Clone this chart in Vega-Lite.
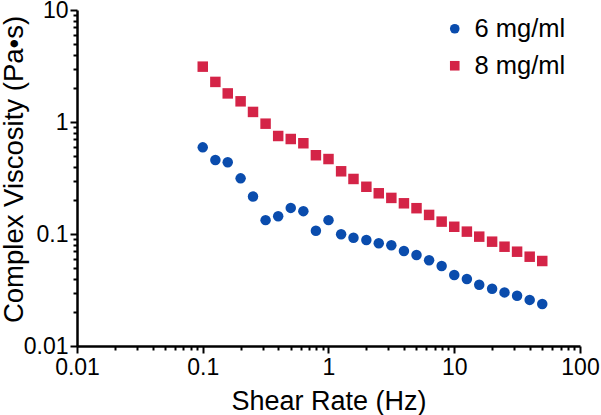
{
  "$schema": "https://vega.github.io/schema/vega-lite/v6.json",
  "width": 503,
  "height": 336,
  "autosize": {"type": "none"},
  "padding": {"left": 77, "top": 10, "right": 21, "bottom": 69},
  "background": "white",
  "config": {
    "view": {"stroke": null},
    "font": "Liberation Sans",
    "axis": {
      "domainColor": "black",
      "domainWidth": 2.5,
      "tickColor": "black",
      "tickWidth": 2,
      "labelColor": "black",
      "titleColor": "black",
      "labelFont": "Liberation Sans",
      "titleFont": "Liberation Sans",
      "labelFontSize": 23,
      "titleFontWeight": "normal",
      "grid": false,
      "labelOverlap": false,
      "labelFlush": false
    }
  },
  "data": {
    "values": [
      {"rate": 0.1, "visc": 0.594, "conc": "6 mg/ml"},
      {"rate": 0.126, "visc": 0.458, "conc": "6 mg/ml"},
      {"rate": 0.158, "visc": 0.437, "conc": "6 mg/ml"},
      {"rate": 0.2, "visc": 0.314, "conc": "6 mg/ml"},
      {"rate": 0.251, "visc": 0.216, "conc": "6 mg/ml"},
      {"rate": 0.316, "visc": 0.133, "conc": "6 mg/ml"},
      {"rate": 0.398, "visc": 0.144, "conc": "6 mg/ml"},
      {"rate": 0.501, "visc": 0.171, "conc": "6 mg/ml"},
      {"rate": 0.631, "visc": 0.16, "conc": "6 mg/ml"},
      {"rate": 0.794, "visc": 0.107, "conc": "6 mg/ml"},
      {"rate": 1, "visc": 0.133, "conc": "6 mg/ml"},
      {"rate": 1.26, "visc": 0.0994, "conc": "6 mg/ml"},
      {"rate": 1.58, "visc": 0.0927, "conc": "6 mg/ml"},
      {"rate": 2, "visc": 0.0884, "conc": "6 mg/ml"},
      {"rate": 2.51, "visc": 0.0826, "conc": "6 mg/ml"},
      {"rate": 3.16, "visc": 0.0793, "conc": "6 mg/ml"},
      {"rate": 3.98, "visc": 0.0705, "conc": "6 mg/ml"},
      {"rate": 5.01, "visc": 0.0649, "conc": "6 mg/ml"},
      {"rate": 6.31, "visc": 0.0582, "conc": "6 mg/ml"},
      {"rate": 7.94, "visc": 0.0518, "conc": "6 mg/ml"},
      {"rate": 10, "visc": 0.043, "conc": "6 mg/ml"},
      {"rate": 12.6, "visc": 0.0396, "conc": "6 mg/ml"},
      {"rate": 15.8, "visc": 0.0352, "conc": "6 mg/ml"},
      {"rate": 20, "visc": 0.0325, "conc": "6 mg/ml"},
      {"rate": 25.1, "visc": 0.0301, "conc": "6 mg/ml"},
      {"rate": 31.6, "visc": 0.0281, "conc": "6 mg/ml"},
      {"rate": 39.8, "visc": 0.0258, "conc": "6 mg/ml"},
      {"rate": 50.1, "visc": 0.0237, "conc": "6 mg/ml"},
      {"rate": 0.1, "visc": 3.12, "conc": "8 mg/ml"},
      {"rate": 0.126, "visc": 2.28, "conc": "8 mg/ml"},
      {"rate": 0.158, "visc": 1.8, "conc": "8 mg/ml"},
      {"rate": 0.2, "visc": 1.53, "conc": "8 mg/ml"},
      {"rate": 0.251, "visc": 1.23, "conc": "8 mg/ml"},
      {"rate": 0.316, "visc": 0.966, "conc": "8 mg/ml"},
      {"rate": 0.398, "visc": 0.75, "conc": "8 mg/ml"},
      {"rate": 0.501, "visc": 0.705, "conc": "8 mg/ml"},
      {"rate": 0.631, "visc": 0.646, "conc": "8 mg/ml"},
      {"rate": 0.794, "visc": 0.505, "conc": "8 mg/ml"},
      {"rate": 1, "visc": 0.467, "conc": "8 mg/ml"},
      {"rate": 1.26, "visc": 0.363, "conc": "8 mg/ml"},
      {"rate": 1.58, "visc": 0.31, "conc": "8 mg/ml"},
      {"rate": 2, "visc": 0.264, "conc": "8 mg/ml"},
      {"rate": 2.51, "visc": 0.231, "conc": "8 mg/ml"},
      {"rate": 3.16, "visc": 0.21, "conc": "8 mg/ml"},
      {"rate": 3.98, "visc": 0.188, "conc": "8 mg/ml"},
      {"rate": 5.01, "visc": 0.17, "conc": "8 mg/ml"},
      {"rate": 6.31, "visc": 0.148, "conc": "8 mg/ml"},
      {"rate": 7.94, "visc": 0.129, "conc": "8 mg/ml"},
      {"rate": 10, "visc": 0.116, "conc": "8 mg/ml"},
      {"rate": 12.6, "visc": 0.105, "conc": "8 mg/ml"},
      {"rate": 15.8, "visc": 0.0947, "conc": "8 mg/ml"},
      {"rate": 20, "visc": 0.0854, "conc": "8 mg/ml"},
      {"rate": 25.1, "visc": 0.077, "conc": "8 mg/ml"},
      {"rate": 31.6, "visc": 0.0695, "conc": "8 mg/ml"},
      {"rate": 39.8, "visc": 0.0627, "conc": "8 mg/ml"},
      {"rate": 50.1, "visc": 0.0574, "conc": "8 mg/ml"}
    ]
  },
  "mark": {"type": "point", "filled": true, "opacity": 1, "size": 110, "strokeWidth": 0},
  "encoding": {
    "x": {
      "field": "rate",
      "type": "quantitative",
      "scale": {"type": "log", "domain": [0.01, 100], "nice": false},
      "axis": {
        "title": "Shear Rate (Hz)",
        "titleFontSize": 27,
        "titleBaseline": "alphabetic",
        "titleY": 63,
        "values": [0.01, 0.02, 0.03, 0.04, 0.05, 0.06, 0.07, 0.08, 0.09, 0.1, 0.2, 0.3, 0.4, 0.5, 0.6, 0.7, 0.8, 0.9, 1, 2, 3, 4, 5, 6, 7, 8, 9, 10, 20, 30, 40, 50, 60, 70, 80, 90, 100],
        "labelExpr": "abs(log(datum.value)/LN10 - round(log(datum.value)/LN10)) < 0.000001 ? format(datum.value, '~g') : ''",
        "tickSize": {"condition": {"test": "abs(log(datum.value)/LN10 - round(log(datum.value)/LN10)) < 0.000001", "value": 7}, "value": 4},
        "labelPadding": 3
      }
    },
    "y": {
      "field": "visc",
      "type": "quantitative",
      "scale": {"type": "log", "domain": [0.01, 10], "nice": false},
      "axis": {
        "title": "Complex Viscosity (Pa•s)",
        "titleFontSize": 27.5,
        "titleBaseline": "alphabetic",
        "titleX": -55,
        "titleY": 159,
        "values": [0.01, 0.02, 0.03, 0.04, 0.05, 0.06, 0.07, 0.08, 0.09, 0.1, 0.2, 0.3, 0.4, 0.5, 0.6, 0.7, 0.8, 0.9, 1, 2, 3, 4, 5, 6, 7, 8, 9, 10],
        "labelExpr": "abs(log(datum.value)/LN10 - round(log(datum.value)/LN10)) < 0.000001 ? format(datum.value, '~g') : ''",
        "tickSize": {"condition": {"test": "abs(log(datum.value)/LN10 - round(log(datum.value)/LN10)) < 0.000001", "value": 7}, "value": 4},
        "labelPadding": 2
      }
    },
    "color": {
      "field": "conc",
      "type": "nominal",
      "scale": {"domain": ["6 mg/ml", "8 mg/ml"], "range": ["#0a4cad", "#d42447"]},
      "legend": {
        "title": null,
        "orient": "none",
        "legendX": 365,
        "legendY": 6,
        "labelFontSize": 25.5,
        "labelColor": "black",
        "symbolSize": 92,
        "labelOffset": 7,
        "rowPadding": 10,
        "symbolStrokeWidth": 0
      }
    },
    "shape": {
      "field": "conc",
      "type": "nominal",
      "scale": {"domain": ["6 mg/ml", "8 mg/ml"], "range": ["circle", "square"]},
      "legend": null
    }
  }
}
